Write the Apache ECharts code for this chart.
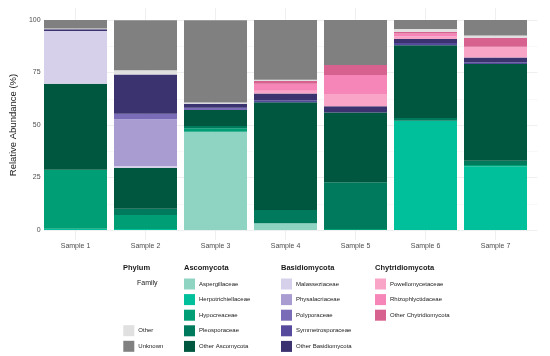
<!DOCTYPE html>
<html>
<head>
<meta charset="utf-8">
<script src="https://cdn.jsdelivr.net/npm/echarts@6/dist/echarts.min.js"></script>
<style>html,body{margin:0;padding:0;background:#fff}#c{width:550px;height:356px}</style>
</head>
<body>
<div id="c"></div>
<script>
const categories = ['Sample 1','Sample 2','Sample 3','Sample 4','Sample 5','Sample 6','Sample 7'];
const yTicks = [0, 25, 50, 75, 100];

const Aspergillaceae       = [0,    0,    46.8, 3.2,  0,    0,    0];
const Herpotrichiellaceae  = [0.6,  0.5,  0,    0,    0,    52.0, 30.3];
const Hypocreaceae         = [28.1, 6.7,  1.6,  0,    0.5,  0,    0.7];
const Pleosporaceae        = [0,    2.9,  1.1,  6.3,  22.2, 1.3,  2.0];
const OtherAscomycota      = [41.0, 19.4, 7.6,  51.3, 33.3, 34.7, 46.0];
const Malasseziaceae       = [25.1, 1.0,  0,    0,    0,    0,    0];
const Physalacriaceae      = [0,    22.2, 0,    0,    0,    0,    0];
const Polyporaceae         = [0,    2.7,  1.1,  0,    0,    0,    0];
const Symmetrosporaceae    = [0,    0,    0,    1.0,  0,    1.0,  0.8];
const OtherBasidiomycota   = [0.8,  18.6, 1.9,  3.2,  2.9,  1.9,  2.4];
const Powellomycetaceae    = [0,    0,    0,    1.3,  5.9,  1.3,  5.1];
const Rhizophlyctidaceae   = [0,    0,    0,    3.3,  9.0,  1.4,  0];
const OtherChytridiomycota = [0,    0,    0,    1.3,  4.8,  0.8,  4.2];
const OtherFam             = [0.3,  2.1,  0.6,  0.6,  0,    1.3,  1.1];
const Unknown              = [4.1,  23.8, 39.2, 28.6, 21.4, 4.3,  7.4];

const ascoNames = ['Aspergillaceae','Herpotrichiellaceae','Hypocreaceae','Pleosporaceae','Other Ascomycota'];
const basidioNames = ['Malasseziaceae','Physalacriaceae','Polyporaceae','Symmetrosporaceae','Other Basidiomycota'];
const chytridNames = ['Powellomycetaceae','Rhizophlyctidaceae','Other Chytridiomycota'];
const miscNames = ['Other','Unknown'];

const seriesDefs = [
  ['Aspergillaceae', Aspergillaceae, '#8fd4c2'],
  ['Herpotrichiellaceae', Herpotrichiellaceae, '#00bf9b'],
  ['Hypocreaceae', Hypocreaceae, '#009e75'],
  ['Pleosporaceae', Pleosporaceae, '#007a5c'],
  ['Other Ascomycota', OtherAscomycota, '#00573f'],
  ['Malasseziaceae', Malasseziaceae, '#d6d0ea'],
  ['Physalacriaceae', Physalacriaceae, '#a99cd1'],
  ['Polyporaceae', Polyporaceae, '#7a6cb6'],
  ['Symmetrosporaceae', Symmetrosporaceae, '#564a9c'],
  ['Other Basidiomycota', OtherBasidiomycota, '#3b3370'],
  ['Powellomycetaceae', Powellomycetaceae, '#f9a5c8'],
  ['Rhizophlyctidaceae', Rhizophlyctidaceae, '#f786b8'],
  ['Other Chytridiomycota', OtherChytridiomycota, '#d8628f'],
  ['Other', OtherFam, '#e0e0e0'],
  ['Unknown', Unknown, '#808080']
];

const FONT = 'Liberation Sans, Arial, sans-serif';
const chart = echarts.init(document.getElementById('c'), null, {renderer: 'canvas'});

function legendFor(names, left, top) {
  return {
    data: names, orient: 'vertical', left: left, top: top,
    itemWidth: 11, itemHeight: 11, itemGap: 4.6, icon: 'rect',
    selectedMode: false, padding: 0,
    textStyle: {fontFamily: FONT, fontSize: 6, color: '#1a1a1a', padding: [0,0,0,-1]}
  };
}

const option = {
  animation: false,
  grid: [
    {left: 33.5, right: 12.5, top: 20, bottom: 126, containLabel: false},
    {left: 40.5, right: 19.5, top: 20, bottom: 126, containLabel: false},
    {left: 75.5, right: 54.5, top: 8, bottom: 116, containLabel: false}
  ],
  xAxis: [
    {type: 'value', gridIndex: 0, show: false},
    {type: 'category', gridIndex: 1, data: categories, boundaryGap: true,
     axisLine: {show: false}, axisTick: {show: false}, splitLine: {show: false},
     axisLabel: {fontFamily: FONT, fontSize: 7, color: '#4d4d4d', margin: 13}},
    {type: 'value', gridIndex: 2, min: 0, max: 6, interval: 1,
     axisLine: {show: false}, axisTick: {show: false}, axisLabel: {show: false},
     splitLine: {show: true, lineStyle: {color: '#ebebeb', width: 0.8}}}
  ],
  yAxis: [
    {type: 'value', gridIndex: 0, min: 0, max: 100, interval: 25,
     axisLine: {show: false}, axisTick: {show: false},
     axisLabel: {fontFamily: FONT, fontSize: 7, color: '#4d4d4d', margin: 3.5,
       formatter: v => yTicks.indexOf(v) >= 0 ? String(v) : ''},
     splitLine: {show: true, lineStyle: {color: '#ebebeb', width: 0.8}},
     minorTick: {show: false, splitNumber: 2},
     minorSplitLine: {show: true, lineStyle: {color: '#f4f4f4', width: 0.6}},
     name: 'Relative Abundance (%)', nameLocation: 'middle', nameGap: 21,
     nameTextStyle: {fontFamily: FONT, fontSize: 9.5, color: '#1a1a1a'}},
    {type: 'value', gridIndex: 1, min: 0, max: 100, show: false},
    {type: 'value', gridIndex: 2, show: false, min: 0, max: 1}
  ],
  legend: [
    legendFor(ascoNames, 184, 278.5),
    legendFor(basidioNames, 281, 278.5),
    legendFor(chytridNames, 375, 278.5),
    legendFor(miscNames, 123.3, 325.2)
  ],
  graphic: [
    {type: 'text', left: 123, top: 264, style: {text: 'Phylum', font: 'bold 7.5px ' + FONT, fill: '#1a1a1a'}},
    {type: 'text', left: 137, top: 280, style: {text: 'Family', font: '7px ' + FONT, fill: '#1a1a1a'}},
    {type: 'text', left: 184, top: 264, style: {text: 'Ascomycota', font: 'bold 7.5px ' + FONT, fill: '#1a1a1a'}},
    {type: 'text', left: 281, top: 264, style: {text: 'Basidiomycota', font: 'bold 7.5px ' + FONT, fill: '#1a1a1a'}},
    {type: 'text', left: 375, top: 264, style: {text: 'Chytridiomycota', font: 'bold 7.5px ' + FONT, fill: '#1a1a1a'}}
  ],
  series: seriesDefs.map(([name, data, color]) => ({
    name: name, type: 'bar', stack: 'total', xAxisIndex: 1, yAxisIndex: 1,
    barWidth: '90%', data: data, itemStyle: {color: color},
    emphasis: {disabled: true}
  }))
};
chart.setOption(option);
</script>
</body>
</html>
